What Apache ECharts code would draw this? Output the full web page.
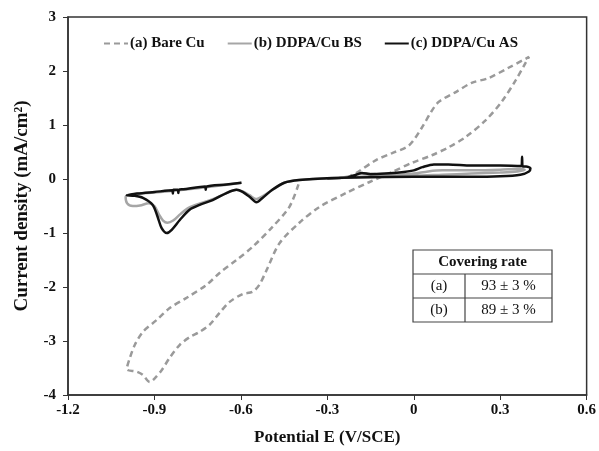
<!DOCTYPE html>
<html>
<head>
<meta charset="utf-8">
<script src="https://cdn.jsdelivr.net/npm/echarts@6/dist/echarts.min.js"></script>
<style>
  html, body { margin: 0; padding: 0; background: #fff; }
  #chart { width: 599px; height: 451px; }
</style>
</head>
<body>
<div id="chart"></div>
<script>
// valeurs (E en V/SCE, j en mA/cm2)
var seriesNames = ['(a) Bare Cu', '(b) DDPA/Cu BS', '(c) DDPA/Cu AS'];

var bareE = [-0.40, -0.432, -0.491, -0.56, -0.615, -0.674, -0.719, -0.788, -0.847, -0.892, -0.94, -0.968, -0.985, -0.996,
  -0.961, -0.94, -0.916, -0.899, -0.875, -0.847, -0.812, -0.778, -0.743, -0.709, -0.674, -0.64, -0.594, -0.56, -0.536, -0.511,
  -0.466, -0.397, -0.328, -0.235, -0.155, -0.075, -0.006, 0.063, 0.122, 0.181, 0.25, 0.305, 0.354, 0.388, 0.40,
  0.329, 0.26, 0.201, 0.146, 0.087, 0.06, 0.028, -0.017, -0.075, -0.131, -0.2, -0.22];
var bareJ = [-0.10, -0.52, -0.89, -1.26, -1.5, -1.74, -1.96, -2.2, -2.39, -2.61, -2.83, -3.07, -3.31, -3.52,
  -3.57, -3.63, -3.76, -3.69, -3.54, -3.31, -3.07, -2.93, -2.83, -2.7, -2.48, -2.28, -2.13, -2.09, -1.96, -1.69,
  -1.19, -0.81, -0.52, -0.26, -0.06, 0.13, 0.30, 0.44, 0.59, 0.78, 1.09, 1.43, 1.83, 2.15, 2.26,
  2.06, 1.87, 1.78, 1.61, 1.43, 1.24, 0.95, 0.62, 0.48, 0.35, 0.11, 0.06];

var bsE = [-0.598, -0.7, -0.8, -0.9, -0.97, -1.0, -0.995, -0.975, -0.95, -0.92, -0.9, -0.885, -0.87, -0.855, -0.835,
  -0.81, -0.78, -0.74, -0.7, -0.65, -0.615, -0.594, -0.57, -0.548, -0.525, -0.49, -0.45, -0.4, -0.3, -0.22, -0.15,
  0, 0.1, 0.2, 0.3, 0.36, 0.385, 0.37, 0.3, 0.2, 0.1, 0.05, 0, -0.07, -0.13, -0.18, -0.22, -0.26];
var bsJ = [-0.07, -0.14, -0.2, -0.25, -0.28, -0.33, -0.45, -0.5, -0.49, -0.45, -0.5, -0.65, -0.77, -0.81, -0.77,
  -0.65, -0.53, -0.45, -0.38, -0.26, -0.2, -0.23, -0.3, -0.37, -0.32, -0.2, -0.07, -0.02, 0.01, 0.03, 0.05,
  0.06, 0.08, 0.1, 0.12, 0.14, 0.17, 0.19, 0.17, 0.16, 0.16, 0.14, 0.1, 0.07, 0.09, 0.1, 0.05, 0.02];

var asE = [-0.598, -0.65, -0.72, -0.722, -0.724, -0.8, -0.815, -0.817, -0.819, -0.834, -0.836, -0.838, -0.9, -0.96, -0.996,
  -0.97, -0.94, -0.906, -0.889, -0.875, -0.857, -0.84, -0.812, -0.778, -0.743, -0.698, -0.65, -0.615, -0.594, -0.57,
  -0.546, -0.525, -0.491, -0.449, -0.397, -0.283, -0.2, 0, 0.2, 0.3, 0.37, 0.4, 0.405, 0.39, 0.378, 0.376, 0.374,
  0.3, 0.2, 0.12, 0.07, 0.03, 0, -0.05, -0.1, -0.15, -0.18, -0.2, -0.23, -0.3];
var asJ = [-0.07, -0.1, -0.14, -0.2, -0.14, -0.19, -0.2, -0.26, -0.2, -0.2, -0.27, -0.21, -0.24, -0.27, -0.30,
  -0.31, -0.35, -0.48, -0.70, -0.91, -1.0, -0.94, -0.76, -0.57, -0.48, -0.39, -0.26, -0.20, -0.24, -0.33,
  -0.43, -0.35, -0.20, -0.07, -0.02, 0.02, 0.03, 0.04, 0.04, 0.05, 0.08, 0.14, 0.2, 0.23, 0.23, 0.41, 0.24,
  0.25, 0.25, 0.27, 0.27, 0.22, 0.16, 0.12, 0.1, 0.09, 0.11, 0.08, 0.03, 0.01];

var coverHead = 'Covering rate';
var coverLabels = ['(a)', '(b)'];
var coverValues = ['93 ± 3 %', '89 ± 3 %'];

function zip(xs, ys) {
  var out = [];
  for (var i = 0; i < xs.length; i++) out.push([xs[i], ys[i]]);
  return out;
}

var serif = '"Liberation Serif", "DejaVu Serif", serif';

// tableau "Covering rate"
function buildTable(x0, y0, w, hHead, hRow, colX) {
  var els = [];
  var hTot = hHead + hRow * coverLabels.length;
  els.push({ type: 'rect', shape: { x: x0, y: y0, width: w, height: hTot },
    style: { fill: '#fff', stroke: '#444', lineWidth: 1.2 } });
  els.push({ type: 'text', x: x0 + w / 2, y: y0 + hHead / 2,
    style: { text: coverHead, font: 'bold 15px ' + serif, fill: '#111', align: 'center', verticalAlign: 'middle' } });
  for (var i = 0; i < coverLabels.length; i++) {
    var yy = y0 + hHead + i * hRow;
    els.push({ type: 'line', shape: { x1: x0, y1: yy, x2: x0 + w, y2: yy }, style: { stroke: '#444', lineWidth: 1.2 } });
    els.push({ type: 'text', x: (x0 + colX) / 2, y: yy + hRow / 2,
      style: { text: coverLabels[i], font: '15px ' + serif, fill: '#111', align: 'center', verticalAlign: 'middle' } });
    els.push({ type: 'text', x: (colX + x0 + w) / 2, y: yy + hRow / 2,
      style: { text: coverValues[i], font: '15px ' + serif, fill: '#111', align: 'center', verticalAlign: 'middle' } });
  }
  els.push({ type: 'line', shape: { x1: colX, y1: y0 + hHead, x2: colX, y2: y0 + hTot }, style: { stroke: '#444', lineWidth: 1.2 } });
  return els;
}

var chart = echarts.init(document.getElementById('chart'));
chart.setOption({
  backgroundColor: '#fff',
  animation: false,
  grid: { left: 68, right: 10, top: 17, bottom: 56, show: true, borderColor: '#333', borderWidth: 1.5, backgroundColor: 'transparent' },
  legend: {
    left: 98, top: 31, itemWidth: 24, itemHeight: 10, itemGap: 22,
    itemStyle: { opacity: 0 },
    textStyle: { fontFamily: serif, fontWeight: 'bold', fontSize: 15, color: '#111', padding: [0, 0, 0, -3] },
    data: seriesNames
  },
  xAxis: {
    type: 'value', min: -1.2, max: 0.6, interval: 0.3,
    name: 'Potential E (V/SCE)', nameLocation: 'middle', nameGap: 34,
    nameTextStyle: { fontFamily: serif, fontWeight: 'bold', fontSize: 17, color: '#111' },
    axisLine: { onZero: false, lineStyle: { color: '#333', width: 1.5 } },
    axisTick: { inside: false, length: 5, lineStyle: { color: '#333' } },
    axisLabel: { fontFamily: serif, fontWeight: 'bold', fontSize: 15, color: '#111', margin: 8,
      formatter: function (v) { return String(Math.round(v * 10) / 10); } },
    splitLine: { show: false }
  },
  yAxis: {
    type: 'value', min: -4, max: 3, interval: 1,
    name: 'Current density (mA/cm²)', nameLocation: 'middle', nameGap: 36,
    nameTextStyle: { fontFamily: serif, fontWeight: 'bold', fontSize: 19, color: '#111' },
    axisLine: { onZero: false, lineStyle: { color: '#333', width: 1.5 } },
    axisTick: { inside: false, length: 5, lineStyle: { color: '#333' } },
    axisLabel: { fontFamily: serif, fontWeight: 'bold', fontSize: 15, color: '#111', margin: 12 },
    splitLine: { show: false }
  },
  series: [
    { name: seriesNames[0], type: 'line', data: zip(bareE, bareJ), showSymbol: false, symbol: 'none', smooth: 0.3,
      lineStyle: { color: '#9a9a9a', width: 2.5, type: [6, 4] }, itemStyle: { color: '#9a9a9a' }, z: 2 },
    { name: seriesNames[1], type: 'line', data: zip(bsE, bsJ), showSymbol: false, symbol: 'none', smooth: 0.3,
      lineStyle: { color: '#a6a6a6', width: 2.5 }, itemStyle: { color: '#a6a6a6' }, z: 3 },
    { name: seriesNames[2], type: 'line', data: zip(asE, asJ), showSymbol: false, symbol: 'none', smooth: 0.3,
      lineStyle: { color: '#111', width: 2.5 }, itemStyle: { color: '#111' }, z: 4 }
  ],
  graphic: buildTable(413, 250, 139, 24, 24, 465)
});
</script>
</body>
</html>
